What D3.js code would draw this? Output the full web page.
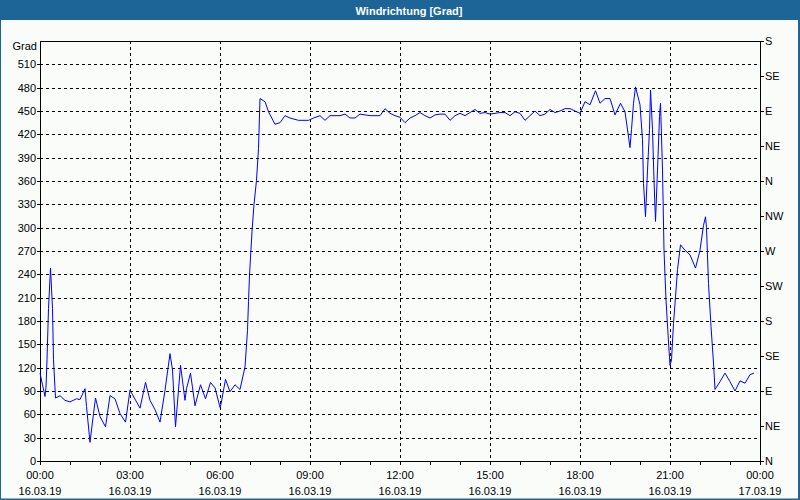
<!DOCTYPE html>
<html><head><meta charset="utf-8">
<script src="https://cdn.jsdelivr.net/npm/d3@7"></script>
<style>body{margin:0;background:#fff}svg{display:block}text{font-family:"Liberation Sans",Arial,sans-serif;font-size:11px;fill:#000}</style>
</head><body>
<script>
const title = "Windrichtung [Grad]";
const yUnit = "Grad";
const minutes = [0,5,10,12,14,17,21,25,27,31,40,50,60,73,80,90,93,100,107,111,120,131,140,150,160,171,180,200,211,220,230,240,250,260,265,271,281,290,293,301,310,321,331,341,350,360,362,371,380,390,400,410,415,417,419,424,428,433,437,440,450,457,470,480,490,500,517,537,547,560,570,580,590,600,610,620,630,640,650,660,680,690,700,710,720,730,740,750,760,770,780,790,800,810,820,830,840,850,860,870,880,890,900,910,920,930,940,950,960,970,980,990,1000,1010,1020,1030,1040,1050,1060,1070,1080,1090,1100,1111,1120,1130,1140,1150,1161,1170,1180,1183,1187,1191,1200,1205,1207,1211,1215,1219,1221,1225,1228,1231,1235,1239,1241,1245,1248,1252,1257,1260,1263,1267,1271,1275,1281,1290,1300,1311,1320,1327,1331,1333,1337,1342,1347,1350,1360,1370,1380,1390,1400,1410,1420,1428];
const values = [113,98,83,95,130,196,248,196,130,81,84,78,76,80,79,93,70,24,61,81,57,44,84,80,61,50,91,68,101,78,66,50,91,138,117,44,123,78,93,113,71,98,80,101,94,69,73,105,89,98,92,121,168,205,239,295,330,361,402,466,462,449,433,435,444,441,438,438,441,444,438,444,444,444,446,441,441,446,445,444,444,453,447,444,442,435,441,444,448,444,441,445,446,446,438,444,447,444,448,452,447,448,446,447,448,448,444,449,447,438,444,450,444,446,452,448,450,453,453,450,447,462,458,476,460,466,466,445,460,449,403,426,460,481,458,413,357,314,374,426,477,426,361,308,374,443,460,374,271,207,153,123,130,177,211,246,278,271,265,248,271,303,314,300,228,173,126,92,102,113,102,90,103,100,111,113];
const leftTicks = d3.range(0, 511, 30);
const rightTicks = [0,45,90,135,180,225,270,315,360,405,450,495,540];
const rightLabels = ["N","NE","E","SE","S","SW","W","NW","N","NE","E","SE","S"];
const xTickHours = [0,3,6,9,12,15,18,21,24];
const xTickTimes = ["00:00","03:00","06:00","09:00","12:00","15:00","18:00","21:00","00:00"];
const xTickDates = ["16.03.19","16.03.19","16.03.19","16.03.19","16.03.19","16.03.19","16.03.19","16.03.19","17.03.19"];

const W=800,H=500;
const svg=d3.select("body").append("svg").attr("width",W).attr("height",H);
svg.append("rect").attr("x",0).attr("y",0).attr("width",W).attr("height",H).attr("fill","#fafcfa");
svg.append("rect").attr("x",0).attr("y",0).attr("width",W).attr("height",20).attr("fill","#1d6497");
svg.append("rect").attr("x",0.5).attr("y",0.5).attr("width",W-2).attr("height",H-1.5).attr("fill","none").attr("stroke","#1d6497").attr("stroke-width",1);
svg.append("line").attr("x1",799.5).attr("x2",799.5).attr("y1",0).attr("y2",H).attr("stroke","#1d6497");
svg.append("line").attr("x1",0).attr("x2",W).attr("y1",499.5).attr("y2",499.5).attr("stroke","#1d6497");
svg.append("text").attr("x",409).attr("y",14.5).attr("text-anchor","middle").style("fill","#fff").style("font-weight","bold").text(title);

const x=d3.scaleLinear().domain([0,1440]).range([40,760]);
const y=d3.scaleLinear().domain([0,540]).range([461,41]);

const g=svg.append("g");
// grid
g.selectAll(".hg").data(leftTicks.filter(d=>d>0)).join("line")
 .attr("x1",40).attr("x2",760).attr("y1",d=>Math.round(y(d))+0.5).attr("y2",d=>Math.round(y(d))+0.5)
 .attr("stroke","#000").attr("stroke-dasharray","3,3");
g.selectAll(".vg").data(xTickHours.filter(h=>h>0&&h<24)).join("line")
 .attr("x1",h=>x(h*60)+0.5).attr("x2",h=>x(h*60)+0.5).attr("y1",41).attr("y2",461)
 .attr("stroke","#000").attr("stroke-dasharray","3,3");

// frame
g.append("line").attr("x1",40.5).attr("x2",40.5).attr("y1",41).attr("y2",464).attr("stroke","#000");
g.append("line").attr("x1",760.5).attr("x2",760.5).attr("y1",41).attr("y2",462).attr("stroke","#000");
g.append("line").attr("x1",40).attr("x2",761).attr("y1",41.5).attr("y2",41.5).attr("stroke","#000");
g.append("line").attr("x1",37).attr("x2",761).attr("y1",461.5).attr("y2",461.5).attr("stroke","#000");

// left ticks
g.selectAll(".lt").data(leftTicks).join("line")
 .attr("x1",37).attr("x2",43).attr("y1",d=>Math.round(y(d))+0.5).attr("y2",d=>Math.round(y(d))+0.5).attr("stroke","#000");
g.selectAll(".ll").data(leftTicks).join("text")
 .attr("x",36).attr("y",d=>y(d)+4).attr("text-anchor","end").text(d=>d);
g.append("text").attr("x",37).attr("y",50).attr("text-anchor","end").text(yUnit);

// right ticks
g.selectAll(".rt").data(rightTicks).join("line")
 .attr("x1",760).attr("x2",764).attr("y1",d=>Math.round(y(d))+0.5).attr("y2",d=>Math.round(y(d))+0.5).attr("stroke","#000");
g.selectAll(".rl").data(rightTicks).join("text")
 .attr("x",765).attr("y",(d,i)=>y(d)+4).text((d,i)=>rightLabels[i]);

// bottom ticks hourly
g.selectAll(".bt").data(d3.range(0,25)).join("line")
 .attr("x1",h=>x(h*60)+0.5).attr("x2",h=>x(h*60)+0.5).attr("y1",461).attr("y2",465).attr("stroke","#000");
g.selectAll(".bl1").data(xTickHours).join("text")
 .attr("x",h=>x(h*60)).attr("y",479).attr("text-anchor","middle").text((h,i)=>xTickTimes[i]);
g.selectAll(".bl2").data(xTickHours).join("text")
 .attr("x",h=>x(h*60)).attr("y",495).attr("text-anchor","middle").text((h,i)=>xTickDates[i]);

// line
const pts=minutes.map((m,i)=>[m,values[i]]);
g.append("path").datum(pts).attr("fill","none").attr("stroke","#0000ff").attr("stroke-width",1)
 .attr("d",d3.line().x(d=>x(d[0])).y(d=>y(d[1])));
</script>
</body></html>
